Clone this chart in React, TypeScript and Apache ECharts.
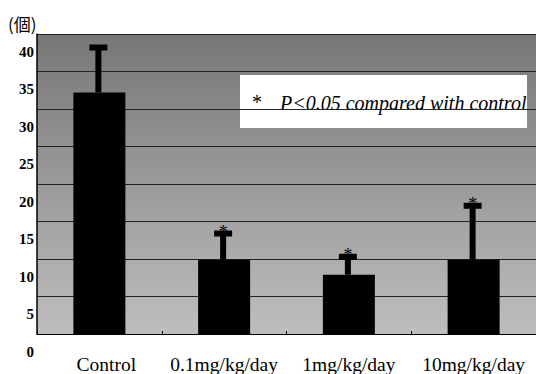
import React, { useEffect, useRef } from "react";
import * as echarts from "echarts";

const categories = ["Control", "0.1mg/kg/day", "1mg/kg/day", "10mg/kg/day"];
const means = [34.7, 12.4, 10.4, 12.4];
const upper = [40.7, 15.9, 12.8, 19.6];
const significant = [false, true, true, true];
const yTicks = [0, 5, 10, 15, 20, 25, 30, 35, 40];
const unitLabel = "(個)";
const noteText = "P<0.05 compared with control";

export default function App() {
  const ref = useRef<HTMLDivElement>(null);
  useEffect(() => {
    if (!ref.current) return;
    const chart = echarts.init(ref.current, null, { renderer: "svg" });
    const step = yTicks[1] - yTicks[0];
    const offset = step / 2;
    const errData = categories.map((_, i) => [i, means[i], upper[i], significant[i] ? 1 : 0]);
    const tickData = yTicks.map((v) => [0, v]);
    chart.setOption({
      animation: false,
      grid: {
        left: 37,
        top: 34,
        width: 503,
        height: 301,
        show: true,
        borderWidth: 0,
        backgroundColor: new echarts.graphic.LinearGradient(0, 0, 0, 1, [
          { offset: 0, color: "#777777" },
          { offset: 1, color: "#bebebe" },
        ]),
      },
      xAxis: {
        type: "category",
        data: categories.map((c, i) =>
          i === 0 ? { value: c, textStyle: { padding: [0, 0, 0, 14] } } : c
        ),
        axisLine: { lineStyle: { color: "#000", width: 1 } },
        axisTick: { show: true, inside: true, length: 3, lineStyle: { color: "#000" } },
        axisLabel: {
          interval: 0,
          fontFamily: "Liberation Serif",
          fontSize: 19.5,
          color: "#000",
          margin: 20,
        },
        splitLine: { show: false },
      },
      yAxis: {
        type: "value",
        min: yTicks[0] + offset,
        max: yTicks[yTicks.length - 1] + offset,
        interval: step,
        axisLine: { show: true, lineStyle: { color: "#000", width: 1.5 } },
        axisTick: { show: false },
        axisLabel: { show: false },
        splitLine: { show: true, lineStyle: { color: "#222", width: 1 } },
      },
      series: [
        {
          type: "bar",
          data: means,
          barWidth: 52,
          itemStyle: { color: "#000" },
          z: 2,
        },
        {
          type: "custom",
          data: errData,
          encode: { x: 0, y: [1, 2] },
          z: 3,
          renderItem: (params: any, api: any) => {
            const i = api.value(0);
            const base = api.coord([i, api.value(1)]);
            const top = api.coord([i, api.value(2)]);
            const children: any[] = [
              {
                type: "rect",
                shape: { x: top[0] - 4, y: top[1], width: 6, height: base[1] - top[1] },
                style: { fill: "#000" },
              },
              {
                type: "rect",
                shape: { x: top[0] - 10, y: top[1] - 3, width: 18, height: 6 },
                style: { fill: "#000" },
              },
            ];
            if (api.value(3) === 1) {
              children.push({
                type: "text",
                style: {
                  x: top[0] - 1,
                  y: top[1] - 2,
                  text: "*",
                  fontFamily: "Liberation Serif",
                  fontSize: 18,
                  fill: "#000",
                  align: "center",
                  verticalAlign: "middle",
                },
              });
            }
            return { type: "group", children };
          },
        },
        {
          type: "custom",
          name: "yLabels",
          data: tickData,
          encode: { x: 0, y: 1 },
          clip: false,
          silent: true,
          z: 20,
          renderItem: (params: any, api: any) => {
            const v = api.value(1);
            const p = api.coord([0, v]);
            return {
              type: "text",
              z2: 100,
              style: {
                x: params.coordSys.x - 3,
                y: p[1] - 1,
                text: String(v),
                fontFamily: "Liberation Serif",
                fontWeight: "bold",
                fontSize: 15,
                fill: "#000",
                opacity: 1,
                align: "right",
                verticalAlign: "middle",
              },
            };
          },
        },
      ],
      graphic: [
        {
          type: "text",
          left: 8,
          top: 15,
          style: {
            text: unitLabel,
            fontFamily: "Noto Sans CJK TC",
            fontSize: 17,
            fill: "#000",
          },
        },
        {
          type: "group",
          left: 240,
          top: 75,
          z: 10,
          children: [
            {
              type: "rect",
              shape: { x: 0, y: 0, width: 287, height: 53 },
              style: { fill: "#fff" },
            },
            {
              type: "text",
              x: 12,
              y: 27,
              style: {
                text: "*",
                fontFamily: "Liberation Serif",
                fontSize: 20,
                fill: "#000",
                verticalAlign: "middle",
              },
            },
            {
              type: "text",
              x: 40,
              y: 28,
              style: {
                text: noteText,
                fontFamily: "Liberation Serif",
                fontStyle: "italic",
                fontSize: 20,
                fill: "#000",
                verticalAlign: "middle",
              },
            },
          ],
        },
      ],
    });
    return () => chart.dispose();
  }, []);
  return <div ref={ref} style={{ width: 536, height: 374, position: "absolute", left: 0, top: 0 }} />;
}
